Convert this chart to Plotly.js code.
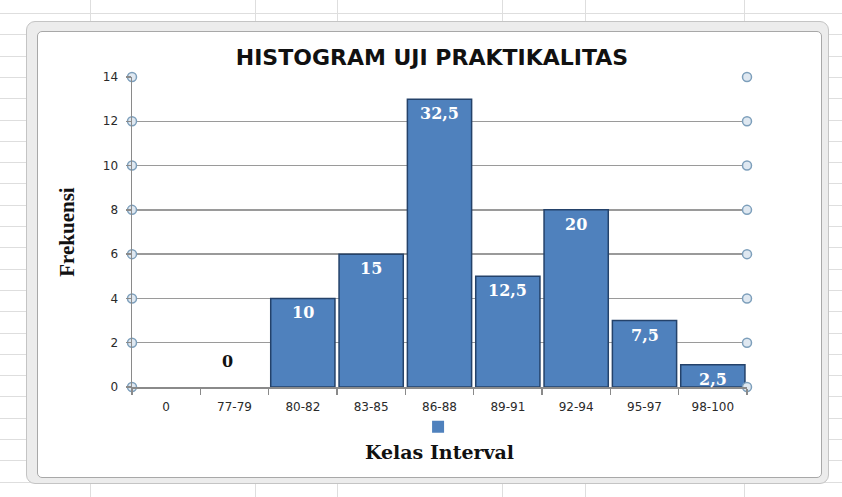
<!DOCTYPE html>
<html>
<head>
<meta charset="utf-8">
<script src="https://cdn.plot.ly/plotly-3.0.1.min.js"></script>
<style>
  html, body { margin: 0; padding: 0; background: #ffffff; }
  #wrap { position: relative; width: 842px; height: 497px; overflow: hidden; }
  #bg { position: absolute; left: 0; top: 0; width: 842px; height: 497px; }
  .hl { position: absolute; left: 0; width: 842px; height: 1px; background: #dedede; }
  .vl { position: absolute; top: 0; height: 497px; width: 1px; background: #dedede; }
  #frame { position: absolute; left: 26px; top: 21px; width: 803px; height: 463px;
           background: #ececec; border: 1px solid #c4c4c4; border-radius: 9px; box-sizing: border-box; }
  #inner { position: absolute; left: 37px; top: 31px; width: 785px; height: 447px;
           background: #ffffff; border: 1.5px solid #a8a8a8; border-radius: 5px; box-sizing: border-box; }
  #chart { position: absolute; left: 0; top: 0; width: 842px; height: 497px; }
</style>
</head>
<body>
<div id="wrap">
  <div id="bg"></div>
  <div id="frame"></div>
  <div id="inner"></div>
  <div id="chart"></div>
</div>
<script>
// ---- data ----
const categories = ["0", "77-79", "80-82", "83-85", "86-88", "89-91", "92-94", "95-97", "98-100"];
const frequencies = [0, 0, 4, 6, 13, 5, 8, 3, 1];
const percentLabels = ["", "0", "10", "15", "32,5", "12,5", "20", "7,5", "2,5"];
const yTickValues = [0, 2, 4, 6, 8, 10, 12, 14];
const chartTitle = "HISTOGRAM UJI PRAKTIKALITAS";
const xTitle = "Kelas Interval";
const yTitle = "Frekuensi";

// ---- spreadsheet background (decoration) ----
const bg = document.getElementById('bg');
for (let k = 0; k < 24; k++) {
  const d = document.createElement('div'); d.className = 'hl';
  d.style.top = (13 + 21.3 * k) + 'px'; bg.appendChild(d);
}
[90, 255, 337, 502, 585, 744].forEach(function (x) {
  const d = document.createElement('div'); d.className = 'vl';
  d.style.left = x + 'px'; bg.appendChild(d);
});

// ---- traces ----
const barTrace = {
  type: 'bar',
  x: categories,
  y: frequencies,
  name: ' ',
  marker: {
    color: '#4f81bd',
    line: { color: '#24426a', width: frequencies.map(function (v) { return v > 0 ? 1.5 : 0; }) }
  },
  hoverinfo: 'x+y',
  showlegend: true
};

const yMax = yTickValues[yTickValues.length - 1];
const endX = [], endY = [];
yTickValues.forEach(function (v) { endX.push(0, 1); endY.push(v, v); });
const endCircles = {
  type: 'scatter', mode: 'markers', xaxis: 'x2', yaxis: 'y',
  x: endX, y: endY, cliponaxis: false, showlegend: false, hoverinfo: 'skip',
  marker: { symbol: 'circle', size: 9, color: '#dfe8f1', line: { color: '#7d9fbb', width: 1.5 } }
};

// ---- data labels ----
const labelFont = 'DejaVu Serif, Liberation Serif, serif';
const annotations = [];
categories.forEach(function (c, i) {
  const t = percentLabels[i];
  if (!t) return;
  const v = frequencies[i];
  if (v > 0) {
    annotations.push({ x: c, y: v, xref: 'x', yref: 'y', text: '<b>' + t + '</b>', showarrow: false,
      yanchor: 'top', yshift: -3,
      font: { family: labelFont, size: 16, color: '#ffffff' } });
  } else {
    annotations.push({ x: c, y: v, xref: 'x', yref: 'y', text: '<b>' + t + '</b>', showarrow: false,
      yanchor: 'middle', yshift: 26, xshift: -7,
      font: { family: labelFont, size: 16, color: '#111111' } });
  }
});

const layout = {
  width: 842, height: 497,
  margin: { l: 132.3, r: 95.3, t: 77.3, b: 109.5, pad: 0 },
  paper_bgcolor: 'rgba(0,0,0,0)',
  plot_bgcolor: 'rgba(0,0,0,0)',
  bargap: 0.06,
  title: {
    text: '<b>' + chartTitle + '</b>',
    x: 0.513, xref: 'container', xanchor: 'center',
    y: 1 - 57 / 497, yref: 'container', yanchor: 'middle',
    font: { family: 'DejaVu Sans, Open Sans, sans-serif', size: 22, color: '#111111' }
  },
  xaxis: {
    type: 'category',
    showline: true, linecolor: '#8a8a8a', linewidth: 1.5,
    ticks: 'outside', tickson: 'boundaries', ticklen: 6, tickcolor: '#8a8a8a', tickwidth: 1.5,
    ticklabelstandoff: 8,
    tickfont: { family: 'DejaVu Sans, Open Sans, sans-serif', size: 12, color: '#2a2a2a' },
    showgrid: false, zeroline: false, fixedrange: true,
    title: { text: '<b>' + xTitle + '</b>', standoff: 33,
      font: { family: labelFont, size: 19, color: '#111111' } }
  },
  xaxis2: {
    overlaying: 'x', range: [0, 1], visible: false, fixedrange: true
  },
  yaxis: {
    range: [0, yMax], tickvals: yTickValues, ticktext: yTickValues.map(String),
    showline: true, linecolor: '#8a8a8a', linewidth: 1.5,
    ticks: 'outside', ticklen: 5, tickcolor: '#8a8a8a', tickwidth: 1.5,
    ticklabelstandoff: 5,
    tickfont: { family: 'DejaVu Sans, Open Sans, sans-serif', size: 12, color: '#2a2a2a' },
    showgrid: true, gridcolor: '#9a9a9a', gridwidth: 1.5,
    zeroline: false, fixedrange: true,
    title: { text: '<b>' + yTitle + '</b>', standoff: 22,
      font: { family: 'Liberation Serif, Times New Roman, serif', size: 21, color: '#111111' } }
  },
  showlegend: true,
  legend: {
    orientation: 'h', x: 0.505, xanchor: 'center', y: -0.128, yanchor: 'middle',
    bgcolor: 'rgba(0,0,0,0)', font: { size: 12 }, itemwidth: 30
  },
  annotations: annotations
};

Plotly.newPlot('chart', [barTrace, endCircles], layout, { displayModeBar: false, staticPlot: true });
</script>
</body>
</html>
